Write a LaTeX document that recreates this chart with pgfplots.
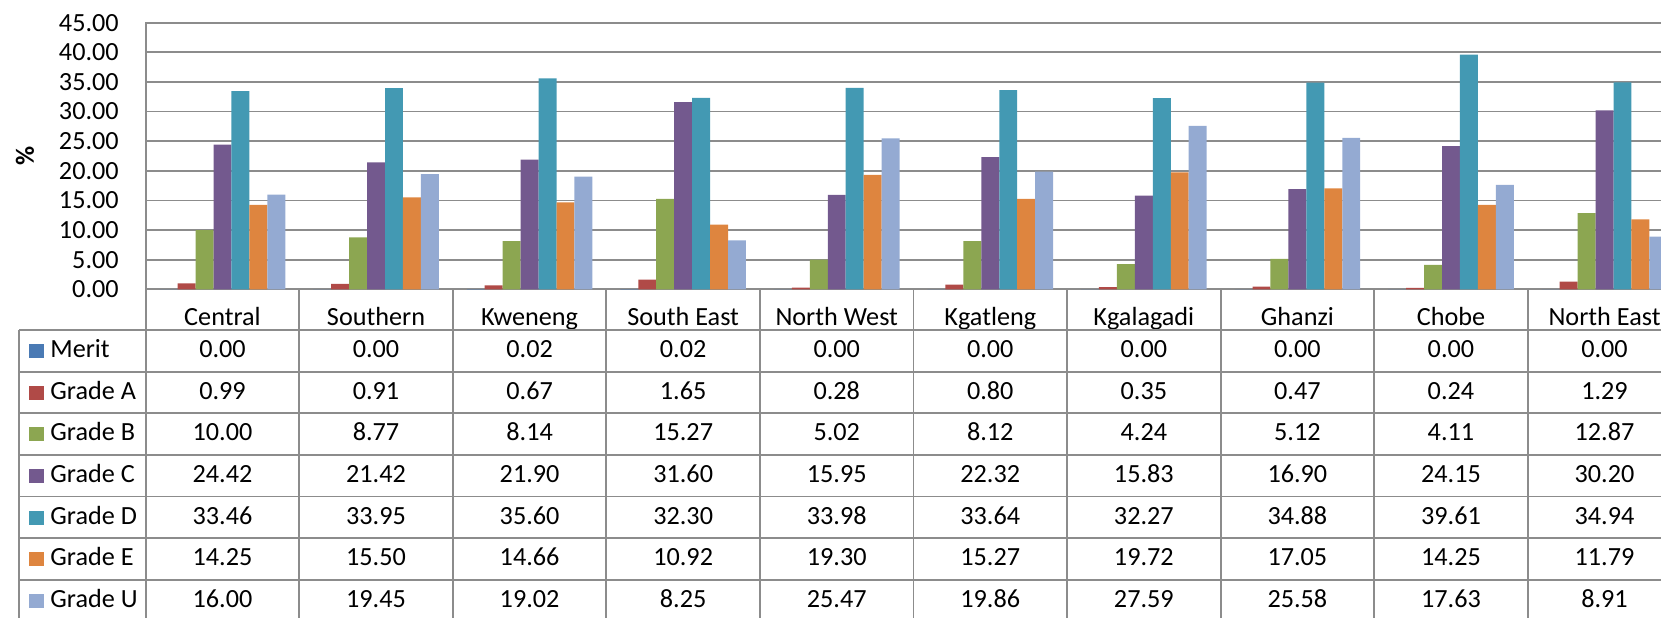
\documentclass[border=0pt]{standalone}
\usepackage{pgfplots}
\pgfplotsset{compat=1.18}
\usepackage{pgfplotstable}
\usepackage{fontspec}
\setmainfont{Carlito}
\definecolor{cMerit}{HTML}{4A7AB4}
\definecolor{cA}{HTML}{B04A47}
\definecolor{cB}{HTML}{8CA651}
\definecolor{cC}{HTML}{73598E}
\definecolor{cD}{HTML}{4399B3}
\definecolor{cE}{HTML}{DE853F}
\definecolor{cU}{HTML}{94AAD2}
\definecolor{gridc}{HTML}{8C8C8C}

\pgfplotstableread{
idx Merit A B C D E U
0 0.00 0.99 10.00 24.42 33.46 14.25 16.00
1 0.00 0.91 8.77 21.42 33.95 15.50 19.45
2 0.02 0.67 8.14 21.90 35.60 14.66 19.02
3 0.02 1.65 15.27 31.60 32.30 10.92 8.25
4 0.00 0.28 5.02 15.95 33.98 19.30 25.47
5 0.00 0.80 8.12 22.32 33.64 15.27 19.86
6 0.00 0.35 4.24 15.83 32.27 19.72 27.59
7 0.00 0.47 5.12 16.90 34.88 17.05 25.58
8 0.00 0.24 4.11 24.15 39.61 14.25 17.63
9 0.00 1.29 12.87 30.20 34.94 11.79 8.91
}\data

\newcommand{\fnt}{\fontsize{13.1}{15}\selectfont}

\begin{document}
\begin{tikzpicture}[x=0.5pt,y=0.5pt]
\useasboundingbox (0,0) rectangle (1661,617);
\clip (0,0) rectangle (1661,617);
\begin{axis}[
  at={(72.85pt,163.85pt)}, anchor=south west,
  scale only axis, width=767.8pt, height=133.3pt,
  xmin=-0.5, xmax=9.5, ymin=0, ymax=45,
  ybar=0pt, bar width=8.975pt,
  xtick={0,...,9},
  xticklabels={Central,Southern,Kweneng,South East,North West,Kgatleng,Kgalagadi,Ghanzi,Chobe,North East},
  xticklabel style={anchor=base, yshift=-13.7pt, font=\fnt},
  ytick={0,5,...,45},
  yticklabel style={font=\fnt, inner sep=0pt, xshift=-13.3pt, /pgf/number format/.cd, fixed, fixed zerofill, precision=2, assume math mode=true},
  tick style={draw=none},
  ymajorgrids, xmajorgrids=false,
  grid style={gridc, line width=0.9pt},
  axis line style={gridc, line width=0.9pt},
  ylabel={\textbf{\%}},
  ylabel style={at={(axis description cs:-0.0786,0.5)}, anchor=center, font=\fnt},
]
\addplot[fill=cMerit, draw=none] table[x=idx, y=Merit] {\data};
\addplot[fill=cA, draw=none] table[x=idx, y=A] {\data};
\addplot[fill=cB, draw=none] table[x=idx, y=B] {\data};
\addplot[fill=cC, draw=none] table[x=idx, y=C] {\data};
\addplot[fill=cD, draw=none] table[x=idx, y=D] {\data};
\addplot[fill=cE, draw=none] table[x=idx, y=E] {\data};
\addplot[fill=cU, draw=none] table[x=idx, y=U] {\data};
\end{axis}
% data table grid
\foreach \i in {0,...,7} {
  \draw[gridc, line width=0.9pt] (19.3,{617-(330+\i*41.63)}) -- (1700,{617-(330+\i*41.63)});
}
\draw[gridc, line width=0.9pt] (19.3,287) -- (19.3,-30);
\foreach \k in {0,...,10} {
  \draw[gridc, line width=0.9pt] ({145.7+\k*153.56},327.7) -- ({145.7+\k*153.56},-30);
}
% legend keys
\foreach \c/\t [count=\j from 0] in {cMerit/Merit,cA/Grade A,cB/Grade B,cC/Grade C,cD/Grade D,cE/Grade E,cU/Grade U} {
  \fill[\c] (29,{617-(330+\j*41.63+14)}) rectangle (44,{617-(330+\j*41.63+28)});
  \node[anchor=base west, inner sep=0pt, font=\fnt] at (50,{617-(330+\j*41.63+27.5)}) {\t};
}
% values
\foreach \k in {0,...,9} {
  \foreach \col [count=\j from 0] in {Merit,A,B,C,D,E,U} {
    \pgfplotstablegetelem{\k}{\col}\of\data
    \node[anchor=base, inner sep=0pt, font=\fnt] at ({145.7+(\k+0.5)*153.56},{617-(330+\j*41.63+27.5)}) {\pgfplotsretval};
  }
}
\end{tikzpicture}
\end{document}
